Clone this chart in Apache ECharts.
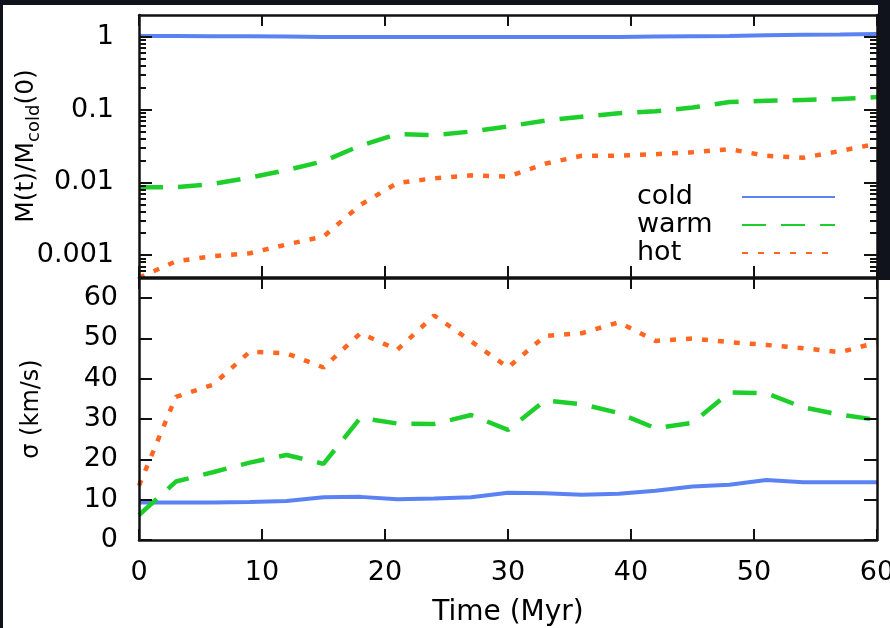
<!DOCTYPE html>
<html>
<head>
<meta charset="utf-8">
<script src="https://cdn.jsdelivr.net/npm/echarts@6/dist/echarts.min.js"></script>
<style>
html,body{margin:0;padding:0;background:#10121c;width:890px;height:628px;overflow:hidden;}
#paper{position:absolute;left:3px;top:5px;width:875px;height:623px;background:#fff;}
#paper2{position:absolute;left:860px;top:280px;width:30px;height:348px;background:#fff;}
#chart{position:absolute;left:0;top:0;width:890px;height:628px;}
</style>
</head>
<body>
<div id="paper"></div>
<div id="paper2"></div>
<div id="chart"></div>
<script>
// ---- data ----
const timeMyr = [0, 3, 6, 9, 12, 15, 18, 21, 24, 27, 30, 33, 36, 39, 42, 45, 48, 51, 54, 57, 60];

const massCold = [1.03, 1.03, 1.02, 1.02, 1.01, 1.0, 1.0, 1.0, 1.0, 1.0, 1.0, 1.0, 1.0, 1.0, 1.01, 1.02, 1.03, 1.05, 1.07, 1.08, 1.1];
const massWarm = [0.0086, 0.0086, 0.0095, 0.0116, 0.0147, 0.0195, 0.032, 0.046, 0.0447, 0.05, 0.0588, 0.0705, 0.080, 0.089, 0.095, 0.107, 0.127, 0.132, 0.136, 0.140, 0.149];
const massHot  = [0.00049, 0.00082, 0.00097, 0.00106, 0.0014, 0.0018, 0.0049, 0.0098, 0.0114, 0.0125, 0.012, 0.018, 0.0232, 0.0233, 0.0244, 0.026, 0.0286, 0.0232, 0.0218, 0.027, 0.034];

const sigmaCold = [9.3, 9.3, 9.3, 9.4, 9.7, 10.6, 10.7, 10.1, 10.3, 10.6, 11.7, 11.6, 11.2, 11.5, 12.2, 13.3, 13.7, 14.9, 14.3, 14.3, 14.3];
const sigmaWarm = [6.2, 14.5, 16.8, 19.2, 21.1, 18.9, 30.3, 28.9, 28.8, 31, 27.3, 34.6, 33.7, 31.5, 27.7, 29.1, 36.6, 36.4, 32.9, 31.1, 29.8];
const sigmaHot  = [13.5, 35.5, 38.5, 46.7, 46.3, 42.8, 51.3, 47.2, 55.7, 49.3, 42.8, 50.6, 51.3, 54, 49.4, 50, 49.1, 48.4, 47.6, 46.6, 49];

const seriesNames = ['cold', 'warm', 'hot'];
const massMajorTicks = [0.001, 0.01, 0.1, 1];
const massMinorTicks = [0.0006, 0.0007, 0.0008, 0.0009,
  0.002, 0.003, 0.004, 0.005, 0.006, 0.007, 0.008, 0.009,
  0.02, 0.03, 0.04, 0.05, 0.06, 0.07, 0.08, 0.09,
  0.2, 0.3, 0.4, 0.5, 0.6, 0.7, 0.8, 0.9];
const massRange = [0.0005, 2];
const sigmaRange = [0, 65];
const timeRange = [0, 60];

// ---- styles ----
const FONT = 'DejaVu Sans';
const COLORS = { cold: '#5b82f2', warm: '#1ecf2c', hot: '#ff6622' };
const AXIS_Z = 10;
function tickStyle() { return { color: '#111', width: 2 }; }
function frameLine() { return { show: true, onZero: false, lineStyle: { color: '#111', width: 2.5 } }; }

function pairs(xs, ys) { return xs.map((x, i) => [x, ys[i]]); }

function xAxisDef(gridIndex, position, withLabels) {
  return {
    type: 'value', gridIndex, position, z: AXIS_Z, min: timeRange[0], max: timeRange[1], interval: 10,
    axisLine: frameLine(),
    axisTick: { show: true, inside: true, length: 11, lineStyle: tickStyle() },
    axisLabel: withLabels ? { show: true, color: '#000', fontFamily: FONT, fontSize: 27, margin: 19 } : { show: false },
    splitLine: { show: false },
    name: withLabels ? 'Time (Myr)' : '',
    nameLocation: 'middle', nameGap: 59, nameMoveOverlap: false,
    nameTextStyle: { color: '#000', fontFamily: FONT, fontSize: 28 }
  };
}

function logAxisDef(position, major, extra) {
  return Object.assign({
    type: 'log', logBase: 10, gridIndex: 0, position, z: AXIS_Z,
    min: massRange[0], max: massRange[1],
    axisLine: major ? frameLine() : { show: false, onZero: false },
    axisTick: { show: true, inside: true, length: major ? 13 : 7, customValues: major ? massMajorTicks : massMinorTicks, lineStyle: tickStyle() },
    axisLabel: { show: false },
    splitLine: { show: false }, minorTick: { show: false }
  }, extra || {});
}

function sigmaAxisDef(position, withLabels) {
  return {
    type: 'value', gridIndex: 1, position, z: AXIS_Z, min: sigmaRange[0], max: sigmaRange[1], interval: 10,
    axisLine: frameLine(),
    axisTick: { show: true, inside: true, length: 13, lineStyle: tickStyle() },
    axisLabel: withLabels ? { show: true, showMaxLabel: false, color: '#000', fontFamily: FONT, fontSize: 27, margin: 21 } : { show: false },
    splitLine: { show: false },
    name: withLabels ? 'σ (km/s)' : '', nameLocation: 'middle', nameGap: 95, nameMoveOverlap: false,
    nameTextStyle: { color: '#000', fontFamily: FONT, fontSize: 24 }
  };
}

const option = {
  animation: false,
  backgroundColor: 'transparent',
  grid: [
    { left: 139, right: 13, top: 15, height: 262, outerBoundsMode: 'none', containLabel: false },
    { left: 139, right: 13, top: 278, height: 262, outerBoundsMode: 'none', containLabel: false }
  ],
  xAxis: [
    xAxisDef(0, 'bottom', false),
    xAxisDef(0, 'top', false),
    xAxisDef(1, 'bottom', true),
    xAxisDef(1, 'top', false)
  ],
  yAxis: [
    logAxisDef('left', true, {
      axisLabel: { show: true, customValues: massMajorTicks, color: '#000', fontFamily: FONT, fontSize: 27, margin: 25 },
      name: '{a|M(t)/M}{b|cold}{a|(0)}',
      nameLocation: 'middle', nameGap: 96, nameMoveOverlap: false,
      nameTextStyle: {
        color: '#000', fontFamily: FONT,
        rich: {
          a: { fontFamily: FONT, fontSize: 25, color: '#000', lineHeight: 34, verticalAlign: 'middle' },
          b: { fontFamily: FONT, fontSize: 18, color: '#000', lineHeight: 34, verticalAlign: 'bottom' }
        }
      }
    }),
    logAxisDef('right', true),
    logAxisDef('left', false),
    logAxisDef('right', false),
    sigmaAxisDef('left', true),
    sigmaAxisDef('right', false)
  ],
  legend: {
    data: seriesNames,
    orient: 'vertical', align: 'right',
    left: 637, top: 183, padding: 0,
    itemWidth: 93, itemHeight: 20, itemGap: 0,
    itemStyle: { opacity: 0 },
    formatter: n => '{t|' + n + '}',
    textStyle: {
      color: '#000', fontFamily: FONT, fontSize: 27, lineHeight: 28,
      rich: { t: { width: 100, align: 'left', fontFamily: FONT, fontSize: 27, lineHeight: 28, color: '#000' } }
    },
    selectedMode: false
  },
  series: [
    { name: 'cold', type: 'line', xAxisIndex: 0, yAxisIndex: 0, data: pairs(timeMyr, massCold), symbol: 'none',
      lineStyle: { color: COLORS.cold, width: 4, type: 'solid' }, itemStyle: { color: COLORS.cold } },
    { name: 'warm', type: 'line', xAxisIndex: 0, yAxisIndex: 0, data: pairs(timeMyr, massWarm), symbol: 'none',
      lineStyle: { color: COLORS.warm, width: 4.5, type: [24, 15] }, itemStyle: { color: COLORS.warm } },
    { name: 'hot', type: 'line', xAxisIndex: 0, yAxisIndex: 0, data: pairs(timeMyr, massHot), symbol: 'none',
      lineStyle: { color: COLORS.hot, width: 4.5, type: [6, 10] }, itemStyle: { color: COLORS.hot } },
    { name: 'cold', type: 'line', xAxisIndex: 2, yAxisIndex: 4, data: pairs(timeMyr, sigmaCold), symbol: 'none',
      lineStyle: { color: COLORS.cold, width: 4, type: 'solid' }, itemStyle: { color: COLORS.cold } },
    { name: 'warm', type: 'line', xAxisIndex: 2, yAxisIndex: 4, data: pairs(timeMyr, sigmaWarm), symbol: 'none',
      lineStyle: { color: COLORS.warm, width: 4.5, type: [24, 15] }, itemStyle: { color: COLORS.warm } },
    { name: 'hot', type: 'line', xAxisIndex: 2, yAxisIndex: 4, data: pairs(timeMyr, sigmaHot), symbol: 'none',
      lineStyle: { color: COLORS.hot, width: 4.5, type: [6, 10] }, itemStyle: { color: COLORS.hot } }
  ]
};

const chart = echarts.init(document.getElementById('chart'), null, { renderer: 'canvas', width: 890, height: 628 });
chart.setOption(option);
</script>
</body>
</html>
